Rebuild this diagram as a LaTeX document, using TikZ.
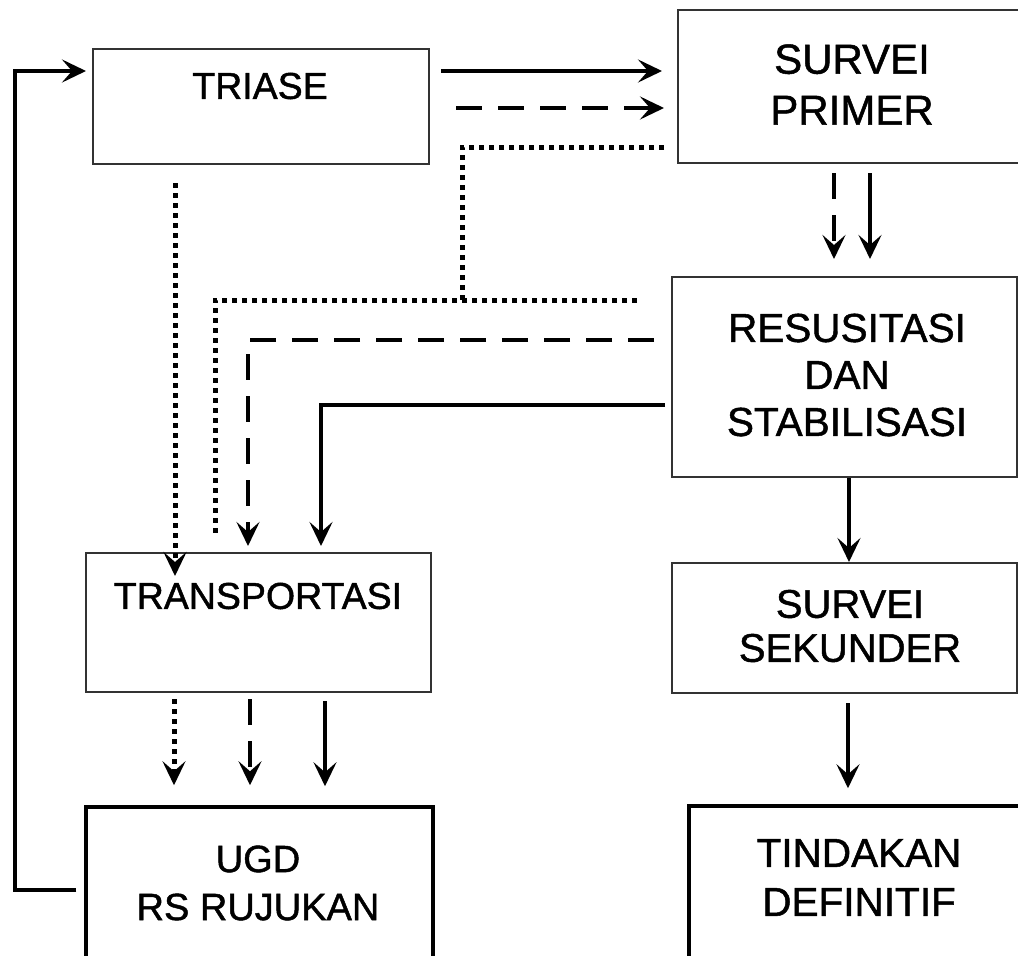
\documentclass[tikz,border=0pt]{standalone}
\usepackage{fontspec}
\setmainfont{Liberation Sans}[FakeBold=1.2]
\usetikzlibrary{arrows.meta,calc}
\begin{document}
\begin{tikzpicture}[x=1pt,y=-1pt,
  >={Stealth[length=24pt,width=23pt,inset=10pt]},
  box/.style={draw=black!80,line width=2pt,fill=white,inner sep=0pt,rectangle},
  boxb/.style={draw=black,line width=3.5pt,fill=white,inner sep=0pt,rectangle},
  lbl/.style={align=center,inner sep=0pt,text=black},
  sol/.style={line width=4.5pt,->},
  dsh/.style={line width=4.5pt,dash pattern=on 26pt off 16pt,->},
  dt/.style={line width=5pt,dash pattern=on 5pt off 5pt}
]
\useasboundingbox (0,0) rectangle (1018,956);
\fill[white] (0,0) rectangle (1018,956);
\clip (0,0) rectangle (1018,956);

% boxes
\node[box,minimum width=336pt,minimum height=115pt] (triase) at (261,106.5) {};
\node[box,minimum width=352pt,minimum height=153pt] (sp) at (854,86.5) {};
\node[box,minimum width=345pt,minimum height=200pt] (res) at (844.5,377) {};
\node[box,minimum width=345pt,minimum height=139pt] (trans) at (258.5,622.5) {};
\node[box,minimum width=345pt,minimum height=130pt] (sek) at (844.5,628) {};
\node[boxb,minimum width=347pt,minimum height=173pt] (ugd) at (259.5,893.5) {};
\node[boxb,minimum width=351pt,minimum height=174pt] (tind) at (864.5,893) {};

% feedback loop
\draw[sol] ($(ugd.west |- 0,890)+(-8,0)$) -- (15,890) -- (15,71) -- ($(triase.west |- 0,71)+(-6,0)$);

% triase -> survei primer
\draw[sol] ($(triase.east |- 0,71)+(11,0)$) -- ($(sp.west |- 0,71)+(-15,0)$);
\draw[dsh] ($(triase.east |- 0,108)+(26,0)$) -- ($(sp.west |- 0,108)+(-13,0)$);

% dotted lines
\draw[dt] ($(sp.west |- 0,147)+(-13,0)$) -- (462,147) -- (462,300);
\draw[dt] ($(res.west |- 0,300)+(-34,0)$) -- (215,300) -- (215,537);
\draw[dt,->] ($(triase.south -| 175,0)+(0,18)$) -- ($(trans.north -| 175,0)+(0,24)$);

% resusitasi -> transportasi
\draw[dsh] ($(res.west |- 0,340)+(-17,0)$) -- (248,340) -- ($(trans.north -| 248,0)+(0,-6)$);
\draw[sol] ($(res.west |- 0,405)+(-6,0)$) -- (321,405) -- ($(trans.north -| 321,0)+(0,-6)$);

% survei primer -> resusitasi
\draw[dsh] ($(sp.south -| 834,0)+(0,9)$) -- ($(res.north -| 834,0)+(0,-17)$);
\draw[sol] ($(sp.south -| 870,0)+(0,9)$) -- ($(res.north -| 870,0)+(0,-17)$);

% resusitasi -> sekunder -> tindakan
\draw[sol] (res.south -| 849,0) -- (sek.north -| 849,0);
\draw[sol] ($(sek.south -| 848,0)+(0,9)$) -- ($(tind.north -| 848,0)+(0,-16)$);

% transportasi -> ugd
\draw[dt,->] ($(trans.south -| 174,0)+(0,6)$) -- ($(ugd.north -| 174,0)+(0,-20)$);
\draw[dsh] ($(trans.south -| 250,0)+(0,6)$) -- ($(ugd.north -| 250,0)+(0,-20)$);
\draw[sol] ($(trans.south -| 325,0)+(0,8)$) -- ($(ugd.north -| 325,0)+(0,-19)$);

% labels
\node[lbl,font=\fontsize{37.5}{45}\selectfont] (triaseT) at (260,86) {TRIASE};
\node[lbl,font=\fontsize{42}{51}\selectfont] (spT) at (852,84.5) {SURVEI\\PRIMER};
\node[lbl,font=\fontsize{40.5}{47}\selectfont] (resT) at (847,375) {RESUSITASI\\DAN\\STABILISASI};
\node[lbl,font=\fontsize{37.5}{45}\selectfont] (transT) at (258,596) {TRANSPORTASI};
\node[lbl,font=\fontsize{40}{44}\selectfont] (sekT) at (850,626) {SURVEI\\SEKUNDER};
\node[lbl,font=\fontsize{38}{48}\selectfont] (ugdT) at (258,883) {UGD\\RS RUJUKAN};
\node[lbl,font=\fontsize{40.5}{49}\selectfont] (tindT) at (859,877.5) {TINDAKAN\\DEFINITIF};
\end{tikzpicture}
\end{document}
